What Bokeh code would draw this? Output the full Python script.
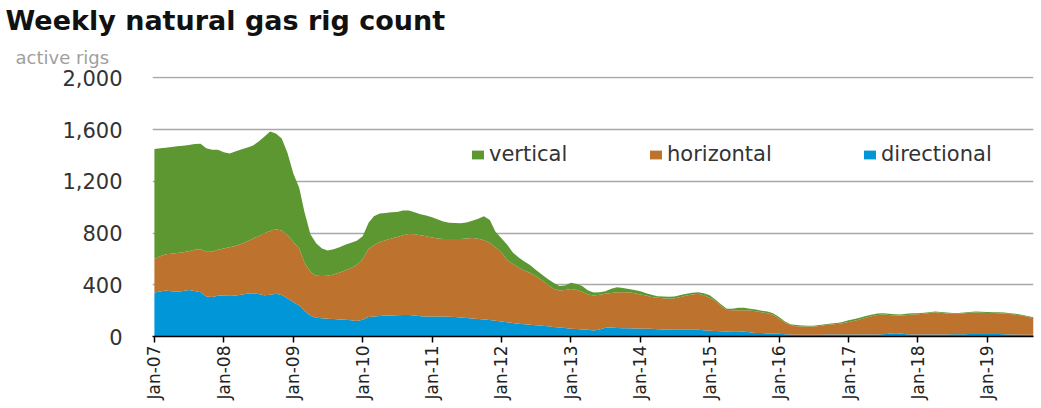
import math
import pandas as pd
from bokeh.plotting import figure
from bokeh.models import (ColumnDataSource, Range1d, FixedTicker, NumeralTickFormatter,
                          DatetimeTickFormatter, Legend, LegendItem, Title)
from bokeh.embed import file_html
from bokeh.resources import INLINE

# ---------------- data (monthly readings, Jan 2007 - Sep 2019) ----------------
start_month = "2007-01-01"

directional = [
    340, 348, 355, 350, 345, 352, 360, 352, 342, 310, 305, 315,
    317, 318, 317, 322, 330, 335, 328, 318, 322, 330, 320, 295,
    265, 240, 200, 160, 145, 142, 138, 135, 132, 129, 125, 120,
    130, 150, 155, 158, 162, 163, 165, 167, 167, 162, 157, 155,
    154, 154, 154, 152, 150, 146, 143, 140, 136, 132, 128, 122,
    115, 110, 104, 98, 94, 90, 87, 84, 80, 74, 70, 66,
    60, 58, 55, 52, 47, 55, 68, 70, 66, 64, 63, 62,
    61, 60, 59, 57, 55, 53, 52, 52, 52, 52, 52, 48,
    44, 42, 40, 39, 40, 41, 36, 32, 28, 27, 24, 22,
    21, 18, 15, 14, 13, 13, 14, 14, 15, 15, 15, 15,
    16, 15, 15, 15, 15, 16, 18, 22, 25, 24, 18, 16,
    16, 15, 15, 16, 15, 16, 18, 17, 18, 20, 20, 19,
    20, 20, 19, 18, 16, 15, 14, 13, 13,
]

horizontal = [
    260, 272, 280, 290, 300, 299, 300, 318, 333, 345, 350, 355,
    363, 372, 383, 393, 402, 420, 447, 480, 493, 500, 500, 490,
    465, 440, 370, 340, 325, 326, 332, 345, 363, 381, 405, 435,
    470, 527, 550, 572, 583, 595, 605, 615, 626, 628, 625, 620,
    611, 603, 600, 602, 604, 608, 615, 622, 619, 613, 597, 568,
    535, 480, 456, 434, 416, 400, 378, 351, 320, 296, 285, 294,
    308, 302, 290, 273, 270, 267, 262, 266, 276, 278, 279, 273,
    264, 257, 246, 243, 241, 239, 243, 254, 265, 273, 278, 270,
    256, 233, 195, 166, 163, 161, 166, 169, 167, 161, 156, 146,
    117, 90, 73, 66, 64, 64, 63, 68, 73, 77, 82, 88,
    96, 107, 117, 130, 142, 150, 152, 145, 138, 138, 147, 154,
    156, 161, 167, 172, 168, 162, 157, 159, 162, 163, 165, 165,
    162, 161, 161, 160, 158, 154, 148, 139, 129,
]

vertical = [
    850, 835, 825, 825, 825, 824, 820, 818, 815, 800, 789, 774,
    745, 725, 730, 730, 728, 720, 730, 747, 770, 740, 710, 635,
    530, 470, 390, 290, 250, 212, 195, 195, 195, 200, 195, 185,
    175, 203, 225, 220, 210, 202, 192, 193, 182, 170, 163, 160,
    157, 148, 136, 126, 124, 121, 124, 133, 155, 185, 175, 120,
    110, 120, 90, 78, 70, 60, 50, 45, 45, 45, 35, 35,
    47, 45, 45, 30, 23, 20, 20, 34, 38, 33, 26, 25,
    25, 18, 17, 12, 14, 16, 15, 14, 13, 13, 12, 17,
    18, 10, 15, 9, 12, 20, 20, 14, 13, 12, 14, 12,
    12, 7, 7, 8, 8, 7, 7, 6, 7, 8, 8, 9,
    13, 13, 13, 13, 11, 11, 10, 9, 9, 8, 10, 10,
    8, 7, 6, 5, 7, 7, 7, 6, 6, 7, 8, 8,
    8, 7, 7, 7, 6, 6, 6, 6, 6,
]

series_names = ["directional", "horizontal", "vertical"]
legend_order = ["vertical", "horizontal", "directional"]
colors = {"directional": "#0096d7", "horizontal": "#bd722e", "vertical": "#5d9732"}

tick_years = list(range(2007, 2020))
y_ticks = [0, 400, 800, 1200, 1600, 2000]

title_text = "Weekly natural gas rig count"
unit_text = "active rigs"

# ---------------- build ----------------
dates = pd.date_range(start_month, periods=len(directional), freq="MS")
source = ColumnDataSource(dict(date=dates, directional=directional,
                               horizontal=horizontal, vertical=vertical))

FONT = "DejaVu Sans"

p = figure(width=1041, height=408, x_axis_type="datetime",
           output_backend="svg", toolbar_location=None,
           x_range=Range1d(dates[0] - pd.Timedelta(days=10), dates[-1]),
           y_range=Range1d(0, 2010),
           min_border_left=152, min_border_right=8,
           min_border_top=76, min_border_bottom=72)
p.outline_line_color = None
p.background_fill_color = "white"
p.border_fill_color = "white"

renderers = p.varea_stack(series_names, x="date", source=source,
                          color=[colors[n] for n in series_names])
rmap = dict(zip(series_names, renderers))

# axes
xa = p.xaxis[0]
xa.ticker = FixedTicker(ticks=[pd.Timestamp(f"{y}-01-01").value // 10**6 for y in tick_years])
xa.formatter = DatetimeTickFormatter(years="%b-%y", months="%b-%y", days="%b-%y")
xa.major_label_orientation = math.pi / 2
xa.major_label_text_font = FONT
xa.major_label_text_font_size = "17px"
xa.major_label_text_color = "#222222"
xa.axis_line_color = "black"
xa.axis_line_width = 1.5
xa.major_tick_line_color = "black"
xa.major_tick_line_width = 1.5
xa.major_tick_out = 6
xa.major_tick_in = 0
xa.minor_tick_line_color = None
xa.major_label_standoff = 3

ya = p.yaxis[0]
ya.ticker = FixedTicker(ticks=y_ticks)
ya.formatter = NumeralTickFormatter(format="0,0")
ya.axis_line_color = None
ya.major_tick_line_color = None
ya.minor_tick_line_color = None
ya.major_tick_out = 0
ya.major_tick_in = 0
ya.major_label_standoff = 30
ya.major_label_text_font = FONT
ya.major_label_text_font_size = "21px"
ya.major_label_text_color = "#333333"

p.xgrid.grid_line_color = None
p.ygrid.grid_line_color = "#a8a8a8"
p.ygrid.grid_line_width = 1.5

# legends (one per item, placed like the reference)
legend_x = {"vertical": 318, "horizontal": 496, "directional": 710}
for name in legend_order:
    leg = Legend(items=[LegendItem(label=name, renderers=[rmap[name]])],
                 location=(legend_x[name], 170), orientation="horizontal",
                 border_line_color=None, background_fill_alpha=0,
                 padding=0, margin=0, spacing=0,
                 glyph_width=15, glyph_height=11, label_standoff=4,
                 label_text_font=FONT, label_text_font_size="21px",
                 label_text_color="#333333")
    p.add_layout(leg, "center")

# titles
p.add_layout(Title(text=unit_text, align="left", offset=-137,
                   text_font=FONT, text_font_size="18px", text_font_style="normal",
                   text_color="#a0a0a0", standoff=18), "above")
p.add_layout(Title(text=title_text, align="left", offset=-147,
                   text_font=FONT, text_font_size="27px", text_font_style="bold",
                   text_color="#111111", standoff=0), "above")

open("out.html", "w").write(file_html(p, INLINE))
